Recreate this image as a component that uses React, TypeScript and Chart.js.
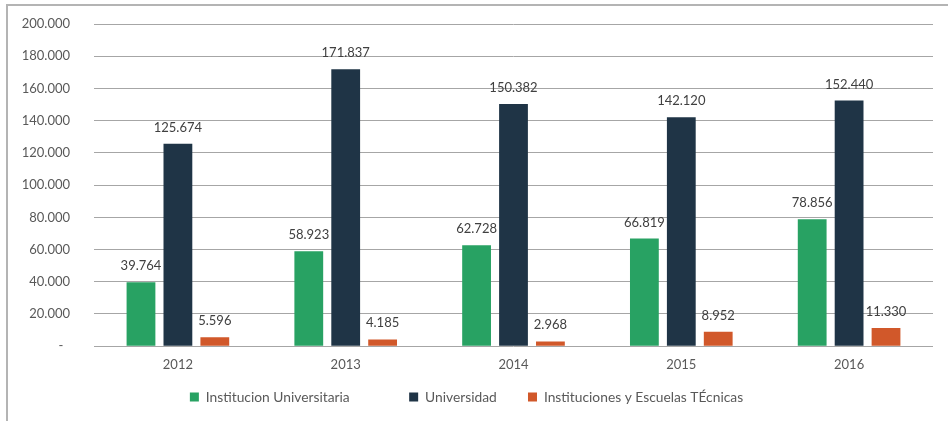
import React, { useEffect, useRef } from "react";
import { Chart, registerables } from "chart.js";

Chart.register(...registerables);

const years = ["2012", "2013", "2014", "2015", "2016"];
const institucionUniversitaria = [39764, 58923, 62728, 66819, 78856];
const universidad = [125674, 171837, 150382, 142120, 152440];
const escuelasTecnicas = [5596, 4185, 2968, 8952, 11330];
const seriesNames = ["Institucion Universitaria", "Universidad", "Instituciones y Escuelas TÉcnicas"];
const seriesColors = ["#28A263", "#1F3446", "#D1582A"];
const legendSpacers = [14, 6, 0];

const FONT = "Lato, 'Open Sans', sans-serif";
const TEXT = "#595959";

function fmt(v: number): string {
  if (v === 0) return "-  ";
  return String(Math.round(v)).replace(/\B(?=(\d{3})+(?!\d))/g, ".");
}

const valueLabels = {
  id: "valueLabels",
  afterDatasetsDraw(chart: any) {
    const ctx = chart.ctx;
    ctx.save();
    ctx.font = `13px ${FONT}`;
    ctx.fillStyle = "#404040";
    ctx.textAlign = "center";
    ctx.textBaseline = "alphabetic";
    chart.data.datasets.forEach((ds: any, i: number) => {
      const meta = chart.getDatasetMeta(i);
      meta.data.forEach((el: any, j: number) => {
        ctx.fillText(fmt(ds.data[j]), el.x, el.y - 12);
      });
    });
    ctx.restore();
  },
};

export default function App() {
  const ref = useRef<HTMLCanvasElement>(null);
  useEffect(() => {
    const data = [institucionUniversitaria, universidad, escuelasTecnicas];
    const chart = new Chart(ref.current as HTMLCanvasElement, {
      type: "bar",
      data: {
        labels: years,
        datasets: data.map((d, i) => ({
          label: seriesNames[i],
          data: d,
          backgroundColor: seriesColors[i],
          borderWidth: 0,
          categoryPercentage: 0.66,
          barPercentage: 0.78,
        })),
      },
      options: {
        animation: false,
        responsive: false,
        maintainAspectRatio: false,
        layout: { padding: { top: 24, right: 15, bottom: 7, left: 0 } },
        plugins: {
          tooltip: { enabled: false },
          legend: {
            position: "bottom",
            labels: {
              boxWidth: 9,
              boxHeight: 9,
              padding: 10,
              color: TEXT,
              font: { family: FONT, size: 13.8 },
              generateLabels: (c: any) =>
                c.data.datasets.map((ds: any, i: number) => ({
                  text: ds.label + " ".repeat(legendSpacers[i]),
                  fillStyle: ds.backgroundColor,
                  strokeStyle: ds.backgroundColor,
                  lineWidth: 0,
                  hidden: false,
                  datasetIndex: i,
                  fontColor: TEXT,
                })),
            },
          },
        },
        scales: {
          x: {
            grid: { display: false, drawTicks: false },
            border: { display: false },
            ticks: { color: TEXT, font: { family: FONT, size: 13 }, padding: 11 },
            afterFit: (s: any) => {
              s.height = 34;
            },
          },
          y: {
            min: 0,
            max: 200000,
            grid: { color: "#a6a6a6", lineWidth: 1, drawTicks: false },
            border: { display: false },
            ticks: {
              stepSize: 20000,
              color: TEXT,
              font: { family: FONT, size: 13 },
              padding: 24,
              callback: (v: any) => fmt(Number(v)),
            },
            afterFit: (s: any) => {
              s.width = 94;
              s.paddingTop = 0;
              s.paddingBottom = 0;
            },
          },
        },
      },
      plugins: [valueLabels],
    });
    return () => chart.destroy();
  }, []);

  return (
    <div style={{ position: "fixed", left: 0, top: 0, width: 948, height: 421, background: "#fff" }}>
      <div
        style={{
          position: "absolute",
          left: 6,
          top: 4,
          width: 960,
          height: 440,
          borderLeft: "2px solid #b4b4b4",
          borderTop: "2px solid #b4b4b4",
        }}
      />
      <canvas ref={ref} width={948} height={421} style={{ position: "absolute", left: 0, top: 0, width: 948, height: 421 }} />
    </div>
  );
}
